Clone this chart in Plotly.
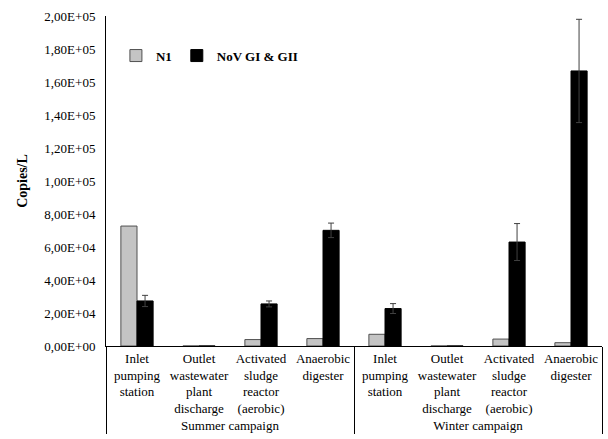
import plotly.graph_objects as go

campaigns = ["Summer campaign"] * 4 + ["Winter campaign"] * 4
sites = [
    "Inlet<br>pumping<br>station",
    "Outlet<br>wastewater<br>plant<br>discharge",
    "Activated<br>sludge<br>reactor<br>(aerobic)",
    "Anaerobic<br>digester",
] * 2

n1_values = [72700, 0, 3900, 4500, 7100, 0, 4200, 2000]
nov_values = [27300, 0, 25500, 70100, 22700, 0, 63000, 166700]
nov_errors = [3400, 0, 1800, 4400, 3000, 0, 11200, 31300]

y_tickvals = [0, 20000, 40000, 60000, 80000, 100000, 120000, 140000, 160000, 180000, 200000]
y_ticktext = ["0,00E+00", "2,00E+04", "4,00E+04", "6,00E+04", "8,00E+04", "1,00E+05",
              "1,20E+05", "1,40E+05", "1,60E+05", "1,80E+05", "2,00E+05"]

font_family = "Liberation Serif, Times New Roman, serif"

fig = go.Figure()
fig.add_trace(go.Bar(
    name="N1", x=[campaigns, sites], y=n1_values,
    marker=dict(color="#c4c4c4", line=dict(color="#505050", width=1)),
))
fig.add_trace(go.Bar(
    name="NoV GI & GII", x=[campaigns, sites], y=nov_values,
    marker=dict(color="#000000", line=dict(color="#000000", width=1)),
    error_y=dict(type="data", array=nov_errors, visible=True,
                 color="#404040", thickness=1, width=3),
))

fig.update_layout(
    width=608, height=439,
    margin=dict(l=106, r=6, t=16, b=93, autoexpand=False),
    paper_bgcolor="white", plot_bgcolor="white",
    barmode="group", bargap=0.48, bargroupgap=0,
    font=dict(family=font_family, size=13, color="black"),
    showlegend=True,
    legend=dict(orientation="h", x=0.02, y=0.88, xanchor="left", yanchor="middle",
                font=dict(family=font_family, size=13, color="black", weight="bold"),
                bgcolor="rgba(0,0,0,0)", itemwidth=30, tracegroupgap=0),
    xaxis=dict(type="multicategory", showline=True, linecolor="black", linewidth=1,
               showdividers=True, dividercolor="black", dividerwidth=1,
               tickangle=0, ticks="",
               tickfont=dict(family=font_family, size=13, color="black")),
    yaxis=dict(range=[0, 200000], tickvals=y_tickvals, ticktext=y_ticktext,
               showline=True, linecolor="black", linewidth=1, showgrid=False,
               zeroline=False, ticks="", ticklabelstandoff=7,
               tickfont=dict(family=font_family, size=13, color="black"),
               title=dict(text="<b>Copies/L</b>", font=dict(family=font_family, size=14, color="black"),
                          standoff=13)),
)

fig.write_html("out.html", config={"displayModeBar": False},
               post_script="document.body.style.margin='0px';")
